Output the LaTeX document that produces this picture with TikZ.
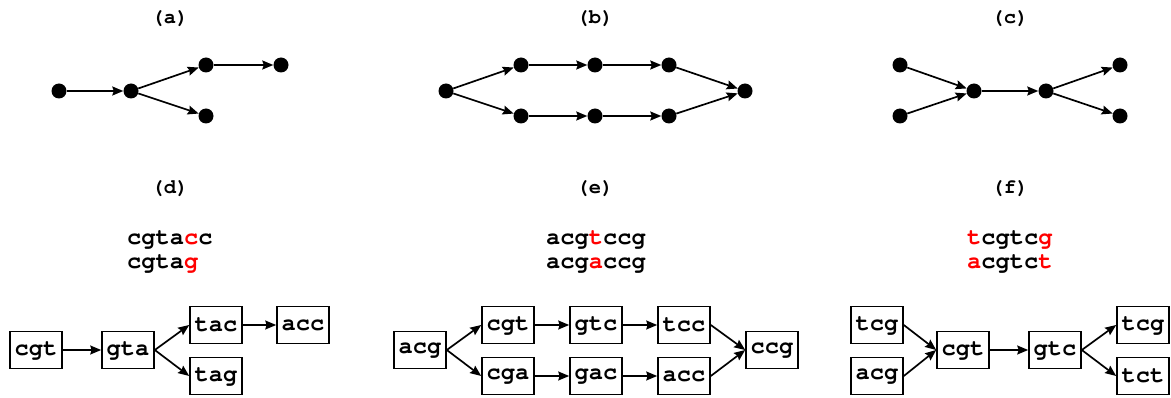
\documentclass[tikz,border=0pt]{standalone}
\usepackage[T1]{fontenc}
\usetikzlibrary{arrows.meta}
\newcommand\redch[1]{\textcolor{red}{#1}}
\begin{document}
\begin{tikzpicture}[x=1pt,y=-1pt,
  dot/.style={circle,fill=black,inner sep=0pt,minimum size=15pt},
  kmer/.style={draw,line width=1.6pt,minimum width=52pt,minimum height=37pt,inner sep=0pt,
    font=\fontfamily{pcr}\bfseries\fontsize{23.7}{24}\selectfont},
  ttl/.style={inner sep=0pt,font=\fontfamily{pcr}\bfseries\fontsize{20.5}{21}\selectfont},
  readtxt/.style={inner sep=0pt,anchor=base west,font=\fontfamily{pcr}\bfseries\fontsize{23.7}{24}\selectfont},
  edge/.style={line width=1.7pt,-{Stealth[length=11pt,width=9pt,inset=1.5pt]}}]
\useasboundingbox (0,0) rectangle (1171,398);

% panel titles
\node[ttl] (ta) at (170,18) {(a)};
\node[ttl] (tb) at (595,18) {(b)};
\node[ttl] (tc) at (1010,18) {(c)};
\node[ttl] (td) at (170,188) {(d)};
\node[ttl] (te) at (595,188) {(e)};
\node[ttl] (tf) at (1010,188) {(f)};

% (a) branching path
\node[dot] (a1) at (59,91) {};
\node[dot] (a2) at (131,91) {};
\node[dot] (a3) at (206,65) {};
\node[dot] (a4) at (281,65) {};
\node[dot] (a5) at (206,116) {};
\draw[edge] (a1) -- (a2);
\draw[edge] (a2) -- (a3);
\draw[edge] (a3) -- (a4);
\draw[edge] (a2) -- (a5);

% (b) bubble
\node[dot] (b1) at (446,91) {};
\node[dot] (b2) at (521,65) {};
\node[dot] (b3) at (595,65) {};
\node[dot] (b4) at (669,65) {};
\node[dot] (b5) at (521,116) {};
\node[dot] (b6) at (595,116) {};
\node[dot] (b7) at (669,116) {};
\node[dot] (b8) at (745,91) {};
\draw[edge] (b1) -- (b2);
\draw[edge] (b2) -- (b3);
\draw[edge] (b3) -- (b4);
\draw[edge] (b4) -- (b8);
\draw[edge] (b1) -- (b5);
\draw[edge] (b5) -- (b6);
\draw[edge] (b6) -- (b7);
\draw[edge] (b7) -- (b8);

% (c) merge then split
\node[dot] (c1) at (900,65) {};
\node[dot] (c2) at (900,116) {};
\node[dot] (c3) at (974,91) {};
\node[dot] (c4) at (1046,91) {};
\node[dot] (c5) at (1120,65) {};
\node[dot] (c6) at (1120,116) {};
\draw[edge] (c1) -- (c3);
\draw[edge] (c2) -- (c3);
\draw[edge] (c3) -- (c4);
\draw[edge] (c4) -- (c5);
\draw[edge] (c4) -- (c6);

% reads
\node[readtxt] (rd1) at (127,245) {cgta\redch{c}c};
\node[readtxt] (rd2) at (127,269) {cgta\redch{g}};
\node[readtxt] (re1) at (546,245) {acg\redch{t}ccg};
\node[readtxt] (re2) at (546,269) {acg\redch{a}ccg};
\node[readtxt] (rf1) at (967,245) {\redch{t}cgtc\redch{g}};
\node[readtxt] (rf2) at (967,269) {\redch{a}cgtc\redch{t}};

% (d) k-mer graph
\node[kmer] (d1) at (36,350) {cgt};
\node[kmer] (d2) at (128,350) {gta};
\node[kmer] (d3) at (216,325) {tac};
\node[kmer] (d4) at (303,325) {acc};
\node[kmer] (d5) at (216,376) {tag};
\draw[edge] (d1) -- (d2);
\draw[edge] (d2.east) -- (d3.west);
\draw[edge] (d3) -- (d4);
\draw[edge] (d2.east) -- (d5.west);

% (e) k-mer graph
\node[kmer] (e1) at (420,350) {acg};
\node[kmer] (e2) at (508,325) {cgt};
\node[kmer] (e3) at (596,325) {gtc};
\node[kmer] (e4) at (684,325) {tcc};
\node[kmer] (e5) at (508,376) {cga};
\node[kmer] (e6) at (596,376) {gac};
\node[kmer] (e7) at (684,376) {acc};
\node[kmer] (e8) at (772,350) {ccg};
\draw[edge] (e1.east) -- (e2.west);
\draw[edge] (e2) -- (e3);
\draw[edge] (e3) -- (e4);
\draw[edge] (e4.east) -- (e8.west);
\draw[edge] (e1.east) -- (e5.west);
\draw[edge] (e5) -- (e6);
\draw[edge] (e6) -- (e7);
\draw[edge] (e7.east) -- (e8.west);

% (f) k-mer graph
\node[kmer] (f1) at (877,325) {tcg};
\node[kmer] (f2) at (877,376) {acg};
\node[kmer] (f3) at (963,350) {cgt};
\node[kmer] (f4) at (1055,350) {gtc};
\node[kmer] (f5) at (1143,325) {tcg};
\node[kmer] (f6) at (1143,376) {tct};
\draw[edge] (f1.east) -- (f3.west);
\draw[edge] (f2.east) -- (f3.west);
\draw[edge] (f3) -- (f4);
\draw[edge] (f4.east) -- (f5.west);
\draw[edge] (f4.east) -- (f6.west);
\end{tikzpicture}
\end{document}
